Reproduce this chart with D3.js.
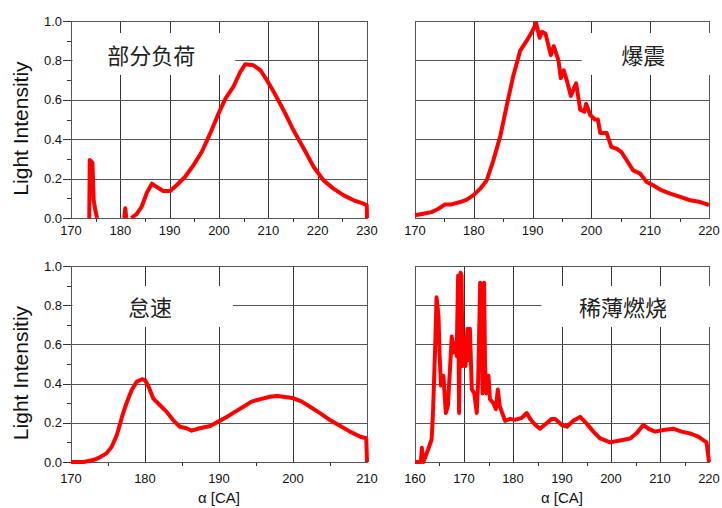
<!DOCTYPE html>
<html lang="zh">
<head>
    <meta charset="UTF-8">
    <title>Light Intensity</title>
    <script src="https://d3js.org/d3.v7.min.js"></script>
    <style>
        body { margin: 0; background: #fff; }
        svg { display: block; }
        text { font-family: "Liberation Sans", Arial, sans-serif; fill: #111; }
        .cjk { font-family: "Noto Sans CJK SC", sans-serif; font-size: 22px; fill: #222; }
    </style>
</head>
<body>
<div id="chart"></div>
<script>
    // Curves, [crank angle, intensity]; null marks a gap
    const partLoad = [
        [173.7, 0], [173.8, 0.295], [174.35, 0.28], [174.6, 0.09], [175.0, 0.03], [175.3, 0], null,
        [180.8, 0], [181.0, 0.05], [181.2, 0], null,
        [182.2, 0], [183.3, 0.02], [184.3, 0.056], [185.4, 0.13], [186.4, 0.174], [187.4, 0.157],
        [188.7, 0.137], [190.1, 0.137], [191.4, 0.166], [193.1, 0.208], [194.8, 0.267], [196.5, 0.335],
        [198.2, 0.428], [199.9, 0.53], [201.3, 0.606], [202.9, 0.665], [204.3, 0.741], [205.3, 0.78],
        [207.0, 0.775], [208.4, 0.75], [209.7, 0.70], [211.1, 0.64], [213.1, 0.547], [215.1, 0.445],
        [217.2, 0.352], [219.2, 0.259], [221.2, 0.191], [223.2, 0.149], [225.3, 0.115], [227.3, 0.09],
        [229.3, 0.073], [229.95, 0.065], [230, 0]
    ];
    const knock = [
        [170, 0.014], [171.4, 0.022], [172.8, 0.03], [174.0, 0.047], [175.1, 0.069], [176.2, 0.069],
        [177.7, 0.081], [178.8, 0.093], [179.9, 0.115], [181.1, 0.149], [182.2, 0.191], [183.3, 0.29],
        [184.5, 0.415], [185.6, 0.57], [186.7, 0.72], [187.9, 0.85], [189.0, 0.9], [189.8, 0.94],
        [190.4, 0.975], [190.6, 0.99], [191.2, 0.915], [191.6, 0.945], [192.2, 0.935], [193.1, 0.827],
        [193.6, 0.872], [194.4, 0.8], [194.8, 0.71], [195.3, 0.75], [195.8, 0.7], [196.5, 0.62],
        [197.4, 0.684], [198.1, 0.55], [198.8, 0.54], [199.1, 0.58], [199.8, 0.523], [200.6, 0.5],
        [201.1, 0.5], [201.5, 0.432], [202.6, 0.431], [203.4, 0.36], [204.3, 0.352], [205.1, 0.335],
        [206.0, 0.293], [207.1, 0.242], [208.3, 0.225], [209.4, 0.183], [210.5, 0.166], [211.7, 0.144],
        [213.4, 0.124], [215.1, 0.107], [216.8, 0.09], [218.5, 0.081], [220, 0.066]
    ];
    const idle = [
        [170, 0], [171.7, 0], [173.0, 0.01], [173.9, 0.024], [174.8, 0.044], [175.5, 0.078],
        [176.2, 0.138], [176.9, 0.231], [177.5, 0.30], [178.2, 0.367], [178.9, 0.41], [179.6, 0.422],
        [180.0, 0.418], [180.5, 0.384], [181.1, 0.325], [182.0, 0.291], [182.9, 0.257], [183.8, 0.214],
        [184.7, 0.18], [185.6, 0.172], [186.3, 0.16], [187.4, 0.172], [188.8, 0.184], [189.9, 0.206],
        [191.1, 0.231], [192.2, 0.257], [193.3, 0.282], [194.4, 0.308], [195.6, 0.321], [196.9, 0.333],
        [197.8, 0.337], [199.2, 0.33], [200.1, 0.325], [201.2, 0.308], [202.3, 0.282], [203.7, 0.248],
        [205.0, 0.214], [206.4, 0.184], [207.7, 0.155], [209.1, 0.129], [209.9, 0.121], [210, 0]
    ];
    const lean = [
        [160, 0], [161.2, 0], [161.4, 0.073], [161.7, 0], [162.7, 0.065], [163.4, 0.116], [163.7, 0.27],
        [164.1, 0.575], [164.4, 0.84], [164.8, 0.745], [165.0, 0.56], [165.3, 0.39], [165.8, 0.44],
        [166.3, 0.25], [166.7, 0.285], [167.1, 0.455], [167.5, 0.64], [167.8, 0.56], [168.2, 0.61],
        [168.5, 0.54], [168.8, 0.95], [169.0, 0.25], [169.3, 0.966], [169.5, 0.95], [169.7, 0.49],
        [170.1, 0.63], [170.3, 0.49], [170.7, 0.68], [170.9, 0.52], [171.2, 0.68], [171.6, 0.37],
        [172.1, 0.35], [172.6, 0.25], [172.9, 0.42], [173.3, 0.915], [173.6, 0.9], [173.8, 0.35],
        [174.1, 0.915], [174.3, 0.49], [174.6, 0.35], [175.0, 0.44], [175.3, 0.32], [176.0, 0.30],
        [176.5, 0.27], [176.9, 0.37], [177.3, 0.285], [177.8, 0.25], [178.4, 0.21], [179.4, 0.22],
        [180.4, 0.215], [181.8, 0.225], [182.8, 0.25], [183.5, 0.22], [184.5, 0.19], [185.5, 0.17],
        [186.5, 0.19], [187.9, 0.22], [188.6, 0.22], [189.9, 0.19], [191.0, 0.18], [192.3, 0.21],
        [193.7, 0.23], [195.0, 0.197], [196.4, 0.155], [197.8, 0.12], [199.8, 0.10], [201.8, 0.11],
        [203.9, 0.12], [205.2, 0.146], [206.6, 0.19], [207.6, 0.17], [209.0, 0.155], [210.7, 0.163],
        [212.7, 0.17], [214.4, 0.155], [216.1, 0.146], [217.8, 0.13], [219.5, 0.10], [220, 0]
    ];

    const titles = ["部分负荷", "爆震", "怠速", "稀薄燃烧"];
    const xDomains = [[170, 230], [170, 220], [170, 210], [160, 220]];
    const yTicks = [0, 0.2, 0.4, 0.6, 0.8, 1.0];
    // label boxes in data units: [x from, x to, y from, y to]
    const labelBoxes = [[170, 203.3, 0.726, 0.939], [198.1, 220.2, 0.726, 0.939],
                        [170, 191.9, 0.689, 0.898], [185.5, 220.2, 0.689, 0.898]];
    const curves = [partLoad, knock, idle, lean];

    const width = 722, height = 508;
    const svg = d3.select("#chart").append("svg").attr("width", width).attr("height", height);

    const cols = [[71, 367], [415, 709]];
    const rows = [[218, 21], [462, 266]];

    curves.forEach((data, i) => {
        const col = i % 2, row = Math.floor(i / 2);
        const x = d3.scaleLinear().domain(xDomains[i]).range(cols[col]);
        const y = d3.scaleLinear().domain([0, 1]).range(rows[row]);
        const g = svg.append("g");
        const [xa, xb] = xDomains[i];

        // grid
        const xMajor = d3.range(xa, xb + 1, 10);
        const xMinor = d3.range(xa + 5, xb, 10);
        g.selectAll(".vg").data(xMajor).enter().append("line")
            .attr("x1", d => Math.round(x(d)) + 0.5).attr("x2", d => Math.round(x(d)) + 0.5)
            .attr("y1", y(0)).attr("y2", y(1))
            .attr("stroke", "#333").attr("stroke-width", 1);
        g.selectAll(".hg").data(yTicks).enter().append("line")
            .attr("x1", x(xa)).attr("x2", x(xb))
            .attr("y1", d => Math.round(y(d)) + 0.5).attr("y2", d => Math.round(y(d)) + 0.5)
            .attr("stroke", "#555").attr("stroke-width", 1);

        // minor x ticks
        g.selectAll(".xm").data(xMinor).enter().append("line")
            .attr("x1", d => Math.round(x(d)) + 0.5).attr("x2", d => Math.round(x(d)) + 0.5)
            .attr("y1", y(0)).attr("y2", y(0) + 4)
            .attr("stroke", "#333");

        // frame
        g.append("rect")
            .attr("x", x(xa) + 0.5).attr("y", y(1) + 0.5)
            .attr("width", x(xb) - x(xa)).attr("height", y(0) - y(1))
            .attr("fill", "none").attr("stroke", "#555");

        // white label box
        const b = labelBoxes[i];
        g.append("rect")
            .attr("x", x(b[0]) + 1.5).attr("y", y(b[3]))
            .attr("width", x(b[1]) - x(b[0]) - 1.5).attr("height", y(b[2]) - y(b[3]))
            .attr("fill", "#fff");
        g.append("text").attr("class", "cjk")
            .attr("x", (x(b[0]) + x(b[1])) / 2 - 2)
            .attr("y", (y(b[2]) + y(b[3])) / 2 + 10)
            .attr("text-anchor", "middle")
            .text(titles[i]);

        // x tick labels
        g.selectAll(".xl").data(xMajor).enter().append("text")
            .attr("x", d => x(d)).attr("y", y(0) + (row === 0 ? 17 : 20.5))
            .attr("text-anchor", "middle").attr("font-size", 13)
            .text(d => d);

        if (col === 0) {
            // y ticks and labels
            g.selectAll(".ym").data(d3.range(0, 11)).enter().append("line")
                .attr("x1", d => x(xa) - (d % 2 === 0 ? 8 : 4)).attr("x2", x(xa))
                .attr("y1", d => Math.round(y(d / 10)) + 0.5).attr("y2", d => Math.round(y(d / 10)) + 0.5)
                .attr("stroke", "#333");
            g.selectAll(".yl").data(yTicks).enter().append("text")
                .attr("x", 62).attr("y", d => y(d) + 4.6)
                .attr("text-anchor", "end").attr("font-size", 13)
                .text(d => d.toFixed(1));
            g.append("text")
                .attr("transform", `translate(28,${(y(0) + y(1)) / 2 + 9}) rotate(-90)`)
                .attr("text-anchor", "middle").attr("font-size", 21)
                .text("Light Intensitiy");
        }
        if (row === 1) {
            g.append("text")
                .attr("x", (x(xa) + x(xb)) / 2).attr("y", 503)
                .attr("text-anchor", "middle").attr("font-size", 15)
                .text("α [CA]");
        }

        // curve
        const line = d3.line()
            .defined(d => d !== null)
            .x(d => x(d[0])).y(d => y(d[1]));
        g.append("path")
            .datum(data)
            .attr("d", line)
            .attr("fill", "none")
            .attr("stroke", "#ff0000")
            .attr("stroke-width", 4)
            .attr("stroke-linejoin", "round");
    });
</script>
</body>
</html>
